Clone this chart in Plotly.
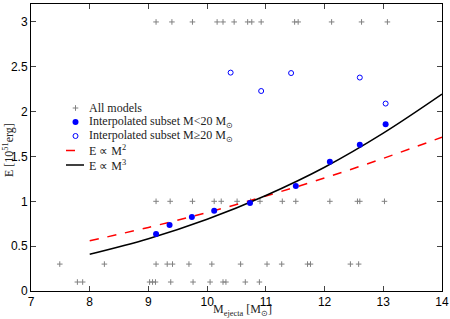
import plotly.graph_objects as go

# ---- data ----
all_x = [9.13, 9.40, 9.75, 10.17, 10.27, 10.46, 10.69, 10.76, 10.92, 11.49, 11.55, 12.12, 12.63, 13.07,
         9.13, 9.37, 9.75, 10.12, 10.24, 10.51, 10.74, 10.90, 11.28, 11.51, 12.09, 12.56, 12.60, 13.02,
         7.49, 8.25, 9.13, 9.32, 9.41, 9.69, 10.08, 10.57, 11.02, 11.27, 11.71, 11.76, 12.44, 12.58,
         7.79, 7.88, 9.02, 9.07, 9.12, 9.38, 9.76, 10.05, 10.27, 10.32, 10.65, 10.89]
all_y = [3.0] * 14 + [1.0] * 14 + [0.3] * 14 + [0.1] * 12

lo_x = [9.13, 9.36, 9.74, 10.12, 10.73, 11.51, 12.09, 12.60, 13.04]
lo_y = [0.635, 0.735, 0.825, 0.895, 0.98, 1.17, 1.44, 1.63, 1.86]

hi_x = [10.40, 10.92, 11.43, 12.60, 13.04]
hi_y = [2.435, 2.23, 2.43, 2.38, 2.09]

fit_x = [8, 9, 10, 11, 12, 13, 14]
fit2_y = [0.56, 0.709, 0.875, 1.059, 1.26, 1.479, 1.715]
fit3_y = [0.41, 0.583, 0.80, 1.065, 1.38, 1.76, 2.195]

x_ticks = [7, 8, 9, 10, 11, 12, 13, 14]
y_ticks = [0, 0.5, 1, 1.5, 2, 2.5, 3]
y_ticktext = ["0", "0.5", "1", "1.5", "2", "2.5", "3"]

legend_labels = ["All models",
                 "Interpolated subset M<20 M<sub>⊙</sub>",
                 "Interpolated subset M≥20 M<sub>⊙</sub>",
                 "E ∝ M<sup>2</sup>",
                 "E ∝ M<sup>3</sup>"]
x_title = "M<sub>ejecta</sub> [M<sub>⊙</sub>]"
y_title = "E [10<sup>51</sup>erg]"

W, H = 450, 319
L, R, T, B = 31, 8, 4, 28
pw, ph = W - L - R, H - T - B

def px(x):
    return (x - L) / pw

def py(y):
    return (H - B - y) / ph

GRAY = "#808080"
BLUE = "#0000ff"
SERIF = "Liberation Serif, serif"
TXT = "#222222"

fig = go.Figure()
fig.add_trace(go.Scatter(x=all_x, y=all_y, mode="markers",
                         marker=dict(symbol="cross-thin", size=4, line=dict(color=GRAY, width=1)),
                         showlegend=False))
fig.add_trace(go.Scatter(x=fit_x, y=fit2_y, mode="lines", line_shape="spline",
                         line=dict(color="#ff0000", width=1.5, dash="dash"), showlegend=False))
fig.add_trace(go.Scatter(x=fit_x, y=fit3_y, mode="lines", line_shape="spline",
                         line=dict(color="black", width=1.5), showlegend=False))
fig.add_trace(go.Scatter(x=lo_x, y=lo_y, mode="markers",
                         marker=dict(symbol="circle", size=6, color=BLUE), showlegend=False))
fig.add_trace(go.Scatter(x=hi_x, y=hi_y, mode="markers",
                         marker=dict(symbol="circle-open", size=5, color=BLUE, line=dict(width=1)),
                         showlegend=False))

# ---- hand-drawn legend on an overlay paper axis ----
rows_py = [108, 122, 136, 150.5, 165]
sx0, sx1, sxc, tx = 66, 84, 75.5, 87
fig.add_trace(go.Scatter(x=[px(sxc)], y=[py(rows_py[0])], xaxis="x2", yaxis="y2", mode="markers",
                         marker=dict(symbol="cross-thin", size=4, line=dict(color=GRAY, width=1)),
                         showlegend=False, hoverinfo="skip"))
fig.add_trace(go.Scatter(x=[px(sxc)], y=[py(rows_py[1])], xaxis="x2", yaxis="y2", mode="markers",
                         marker=dict(symbol="circle", size=6, color=BLUE), showlegend=False, hoverinfo="skip"))
fig.add_trace(go.Scatter(x=[px(sxc)], y=[py(rows_py[2])], xaxis="x2", yaxis="y2", mode="markers",
                         marker=dict(symbol="circle-open", size=5, color=BLUE, line=dict(width=1)),
                         showlegend=False, hoverinfo="skip"))
fig.add_trace(go.Scatter(x=[px(sx0), px(sx1)], y=[py(rows_py[3])] * 2, xaxis="x2", yaxis="y2", mode="lines",
                         line=dict(color="#ff0000", width=1.5, dash="dash"), showlegend=False, hoverinfo="skip"))
fig.add_trace(go.Scatter(x=[px(sx0), px(sx1)], y=[py(rows_py[4])] * 2, xaxis="x2", yaxis="y2", mode="lines",
                         line=dict(color="black", width=1.5), showlegend=False, hoverinfo="skip"))
for lab, yy in zip(legend_labels, rows_py):
    fig.add_annotation(x=px(tx), y=py(yy), xref="paper", yref="paper", text=lab, showarrow=False,
                       xanchor="left", yanchor="middle", font=dict(family=SERIF, size=12, color=TXT))

# axis titles as annotations (so the plot area stays fixed)
fig.add_annotation(x=px(242), y=py(310), xref="paper", yref="paper", text=x_title, showarrow=False,
                   xanchor="center", yanchor="middle", font=dict(family=SERIF, size=12, color=TXT))
fig.add_annotation(x=px(8), y=py(150), xref="paper", yref="paper", text=y_title, showarrow=False,
                   textangle=-90, xanchor="center", yanchor="middle", font=dict(family=SERIF, size=12, color=TXT))

tickfont = dict(family="Liberation Sans, Arial, sans-serif", size=12, color="black")
fig.update_layout(
    width=W, height=H, margin=dict(l=L, r=R, t=T, b=B, autoexpand=False),
    plot_bgcolor="white", paper_bgcolor="white", showlegend=False,
    xaxis=dict(range=[7, 14], tickvals=x_ticks, ticks="inside", ticklen=5, automargin=False,
               showgrid=False, zeroline=False, showline=True, linecolor="black", linewidth=1,
               mirror="ticks", tickfont=tickfont),
    yaxis=dict(range=[0, 3.2], tickvals=y_ticks, ticktext=y_ticktext, automargin=False,
               ticks="inside", ticklen=5, showgrid=False, zeroline=False, showline=True, linecolor="black",
               linewidth=1, mirror="ticks", tickfont=tickfont),
    xaxis2=dict(range=[0, 1], overlaying="x", visible=False, fixedrange=True),
    yaxis2=dict(range=[0, 1], overlaying="y", visible=False, fixedrange=True),
)
fig.write_html("out.html", config={"displayModeBar": False},
               post_script="document.body.style.margin='0px';document.body.style.padding='0px';")
